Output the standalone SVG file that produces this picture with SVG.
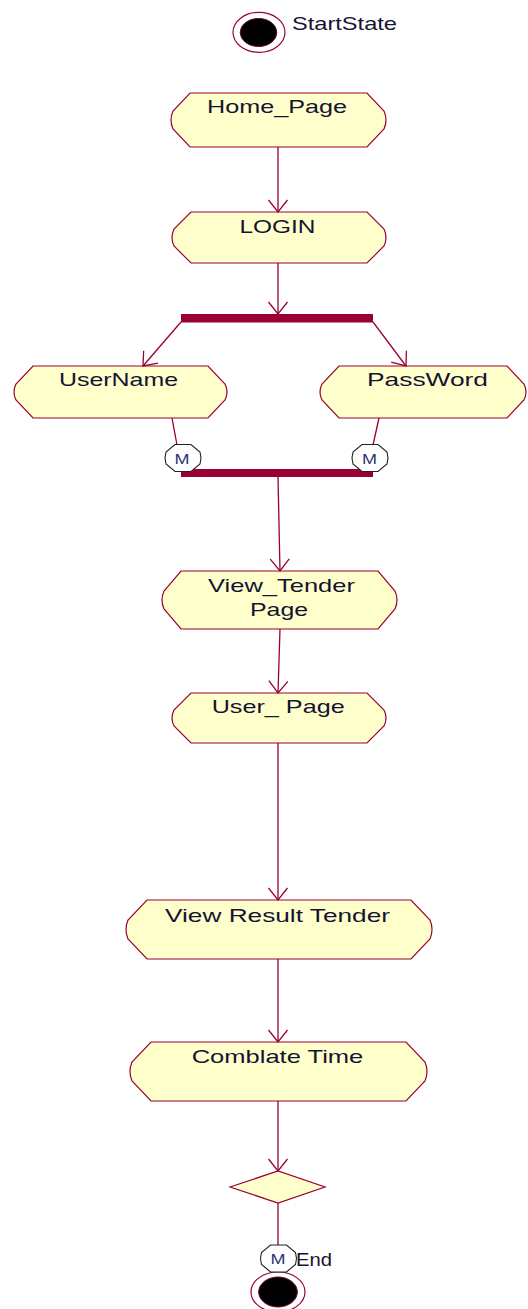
<svg xmlns="http://www.w3.org/2000/svg" width="528" height="1309" viewBox="0 0 528 1309">
  <style>
    .act { fill: #ffffcc; stroke: #990033; stroke-width: 1.2; }
    .bar { fill: #990033; }
    .lbl { font-family: "Liberation Sans", Arial, sans-serif; font-size: 19px; fill: #141432; }
    .mk { font-family: "Liberation Sans", Arial, sans-serif; font-size: 15px; fill: #2c3470; text-anchor: middle; }
    .flow { fill: none; stroke: #990033; stroke-width: 1.3; }
    .arrow { marker-end: url(#openArrow); }
    .merge { fill: #ffffff; stroke: #222222; stroke-width: 1.1; }
  </style>
  <defs>
    <marker id="openArrow" viewBox="-14 -11 16 22" refX="0" refY="0" markerWidth="16" markerHeight="22" markerUnits="userSpaceOnUse" orient="auto">
      <path d="M -12 -9.5 L 0 0 L -12 9.5" fill="none" stroke="#990033" stroke-width="1.3"/>
    </marker>
    <polygon id="mergeShape" points="-8,-13.5 8,-13.5 17,-6 18,0 17,6 8,13.5 -8,13.5 -17,6 -18,0 -17,-6"/>
  </defs>

  <rect width="528" height="1309" fill="#ffffff"/>

  <!-- start state -->
  <g id="start">
    <ellipse cx="259" cy="32.3" rx="26" ry="20" fill="#ffffff" stroke="#990033" stroke-width="1.2"/>
    <ellipse cx="258.5" cy="32.5" rx="18.3" ry="14" fill="#000000" stroke="#660022" stroke-width="1"/>
    <text class="lbl" x="292" y="30" textLength="105" lengthAdjust="spacingAndGlyphs">StartState</text>
  </g>

  <g id="home_page">
    <path class="act" d="M190 93 H367 L384 111 Q388 120 384 129 L367 147 H190 L173 129 Q169 120 173 111 Z"/>
    <text class="lbl" x="207" y="113" textLength="140" lengthAdjust="spacingAndGlyphs">Home_Page</text>
  </g>

  <g id="login">
    <path class="act" d="M191 212 H367 L384 229 Q388 237.5 384 246 L367 263 H191 L174 246 Q170 237.5 174 229 Z"/>
    <text class="lbl" x="239.5" y="233" textLength="76" lengthAdjust="spacingAndGlyphs">LOGIN</text>
  </g>

  <g id="fork">
    <rect class="bar" x="181" y="314" width="192" height="8.5"/>
  </g>

  <g id="username">
    <path class="act" d="M33 366 H208 L225 384 Q229 392 225 400 L208 418 H33 L16 400 Q12 392 16 384 Z"/>
    <text class="lbl" x="59" y="386" textLength="119" lengthAdjust="spacingAndGlyphs">UserName</text>
  </g>

  <g id="password">
    <path class="act" d="M339 366 H507 L524 384 Q528 392 524 400 L507 418 H339 L322 400 Q318 392 322 384 Z"/>
    <text class="lbl" x="367" y="386" textLength="121" lengthAdjust="spacingAndGlyphs">PassWord</text>
  </g>

  <g id="join">
    <rect class="bar" x="181" y="469" width="192" height="8"/>
  </g>

  <g id="view_tender_page">
    <path class="act" d="M181 571 H378 L395 591 Q399 600 395 609 L378 629 H181 L164 609 Q160 600 164 591 Z"/>
    <text class="lbl" x="208" y="591.7" textLength="147" lengthAdjust="spacingAndGlyphs">View_Tender</text>
    <text class="lbl" x="250" y="616" textLength="58" lengthAdjust="spacingAndGlyphs">Page</text>
  </g>

  <g id="user_page">
    <path class="act" d="M191 693 H367 L384 710 Q388 718 384 726 L367 743 H191 L174 726 Q170 718 174 710 Z"/>
    <text class="lbl" x="211.7" y="713.3" textLength="133" lengthAdjust="spacingAndGlyphs">User_ Page</text>
  </g>

  <g id="view_result_tender">
    <path class="act" d="M147 900 H411 L430 920 Q434 929.5 430 939 L411 959 H147 L128 939 Q124 929.5 128 920 Z"/>
    <text class="lbl" x="165" y="921.7" textLength="225" lengthAdjust="spacingAndGlyphs">View Result Tender</text>
  </g>

  <g id="comblate_time">
    <path class="act" d="M151 1042 H406 L425 1062 Q429 1071.5 425 1081 L406 1101 H151 L132 1081 Q128 1071.5 132 1062 Z"/>
    <text class="lbl" x="191.7" y="1063.3" textLength="171.6" lengthAdjust="spacingAndGlyphs">Comblate Time</text>
  </g>

  <g id="decision">
    <polygon class="act" points="230,1187 278,1171 325,1187 278,1203"/>
  </g>

  <g id="end">
    <ellipse cx="278" cy="1292" rx="27" ry="20" fill="#ffffff" stroke="#990033" stroke-width="1.2"/>
    <ellipse cx="278" cy="1292" rx="19.3" ry="15" fill="#000000" stroke="#660022" stroke-width="1"/>
    <text class="lbl" x="296" y="1265.5" textLength="36" lengthAdjust="spacingAndGlyphs">End</text>
  </g>

  <!-- transitions -->
  <g id="connectors">
    <line class="flow arrow" x1="278" y1="147" x2="278" y2="212"/>
    <line class="flow arrow" x1="278" y1="263" x2="278" y2="314"/>
    <line class="flow arrow" x1="181" y1="322" x2="143" y2="366"/>
    <line class="flow arrow" x1="373" y1="322" x2="406" y2="366"/>
    <line class="flow" x1="172" y1="418" x2="177" y2="445"/>
    <line class="flow" x1="379" y1="418" x2="373" y2="445"/>
    <line class="flow arrow" x1="278" y1="477" x2="280" y2="571"/>
    <line class="flow arrow" x1="280" y1="629" x2="278" y2="693"/>
    <line class="flow arrow" x1="278" y1="743" x2="278" y2="900"/>
    <line class="flow arrow" x1="278" y1="959" x2="278" y2="1042"/>
    <line class="flow arrow" x1="278" y1="1101" x2="278" y2="1171"/>
    <line class="flow" x1="278" y1="1203" x2="278" y2="1245"/>

    <!-- merge markers on the incoming transitions -->
    <g id="merge_left">
      <use href="#mergeShape" class="merge" x="183" y="458"/>
      <text class="mk" x="182" y="463.5" textLength="15" lengthAdjust="spacingAndGlyphs">M</text>
    </g>
    <g id="merge_right">
      <use href="#mergeShape" class="merge" x="370" y="458"/>
      <text class="mk" x="369.5" y="463.5" textLength="15" lengthAdjust="spacingAndGlyphs">M</text>
    </g>
    <g id="merge_end">
      <use href="#mergeShape" class="merge" x="278.5" y="1258.5"/>
      <text class="mk" x="278" y="1264" textLength="15" lengthAdjust="spacingAndGlyphs">M</text>
    </g>
  </g>
</svg>
